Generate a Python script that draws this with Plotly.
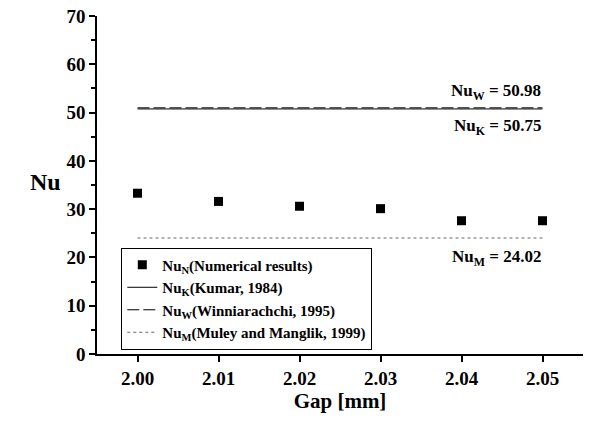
import plotly.graph_objects as go

gap = [2.00, 2.01, 2.02, 2.03, 2.04, 2.05]
nu_numerical = [33.3, 31.6, 30.6, 30.1, 27.6, 27.6]
nu_kumar = 50.75
nu_winn = 50.98
nu_muley = 24.02
x_ticks = [2.00, 2.01, 2.02, 2.03, 2.04, 2.05]
x_tick_labels = ["2.00", "2.01", "2.02", "2.03", "2.04", "2.05"]
y_ticks = [0, 10, 20, 30, 40, 50, 60, 70]

FONT = "Liberation Serif"

fig = go.Figure()
fig.add_trace(go.Scatter(
    x=gap, y=nu_numerical, mode="markers",
    marker=dict(symbol="square", size=9, color="black"),
    name="<b>Nu<sub>N</sub>(Numerical results)</b>"))
fig.add_trace(go.Scatter(
    x=[gap[0], gap[-1]], y=[nu_kumar, nu_kumar], mode="lines",
    line=dict(color="black", width=1, dash="solid"),
    name="<b>Nu<sub>K</sub>(Kumar, 1984)</b>"))
fig.add_trace(go.Scatter(
    x=[gap[0], gap[-1]], y=[nu_winn, nu_winn], mode="lines",
    line=dict(color="black", width=1, dash="12px,4px"),
    name="<b>Nu<sub>W</sub>(Winniarachchi, 1995)</b>"))
fig.add_trace(go.Scatter(
    x=[gap[0], gap[-1]], y=[nu_muley, nu_muley], mode="lines",
    line=dict(color="#666666", width=1, dash="dot"),
    name="<b>Nu<sub>M</sub>(Muley and Manglik, 1999)</b>"))

ann_font = dict(family=FONT, size=17, color="black")
fig.add_annotation(x=gap[-1], y=nu_winn, xref="x", yref="y",
                   text="<b>Nu<sub>W</sub> = %.2f</b>" % nu_winn,
                   showarrow=False, xanchor="right", yanchor="bottom",
                   yshift=3, font=ann_font)
fig.add_annotation(x=gap[-1], y=nu_kumar, xref="x", yref="y",
                   text="<b>Nu<sub>K</sub> = %.2f</b>" % nu_kumar,
                   showarrow=False, xanchor="right", yanchor="top",
                   yshift=-5, font=ann_font)
fig.add_annotation(x=gap[-1], y=nu_muley, xref="x", yref="y",
                   text="<b>Nu<sub>M</sub> = %.2f</b>" % nu_muley,
                   showarrow=False, xanchor="right", yanchor="top",
                   yshift=-7, font=ann_font)
fig.add_annotation(x=(28 - 97) / (590 - 97 - 7),
                   y=(421 - 67 - 182) / (421 - 16 - 67),
                   xref="paper", yref="paper",
                   text="<b>Nu</b>", showarrow=False,
                   font=dict(family=FONT, size=24, color="black"))

fig.update_layout(
    width=590, height=421,
    margin=dict(l=97, r=7, t=16, b=67),
    paper_bgcolor="white", plot_bgcolor="white",
    font=dict(family=FONT, color="black"),
    showlegend=True,
    legend=dict(x=0.05, y=0.315, xanchor="left", yanchor="top",
                bordercolor="black", borderwidth=1, bgcolor="white",
                font=dict(family=FONT, size=15, color="black"),
                tracegroupgap=0, itemwidth=30),
    xaxis=dict(range=[1.995, 2.055], tickvals=x_ticks, ticktext=x_tick_labels,
               showline=True, linecolor="black", linewidth=1.5,
               ticks="outside", ticklen=6, tickcolor="black", tickwidth=1.5,
               showgrid=False, zeroline=False,
               tickfont=dict(family=FONT, size=19, color="black", weight="bold"),
               title=dict(text="<b>Gap [mm]</b>", font=dict(family=FONT, size=21, color="black"),
                          standoff=5)),
    yaxis=dict(range=[0, 70], tickvals=y_ticks,
               showline=True, linecolor="black", linewidth=1.5,
               ticks="outside", ticklen=6, tickcolor="black", tickwidth=1.5,
               minor=dict(dtick=5, ticks="outside", ticklen=4, tickcolor="black", tickwidth=1.5),
               showgrid=False, zeroline=False,
               tickfont=dict(family=FONT, size=19, color="black", weight="bold")),
)

fig.write_html("out.html")
